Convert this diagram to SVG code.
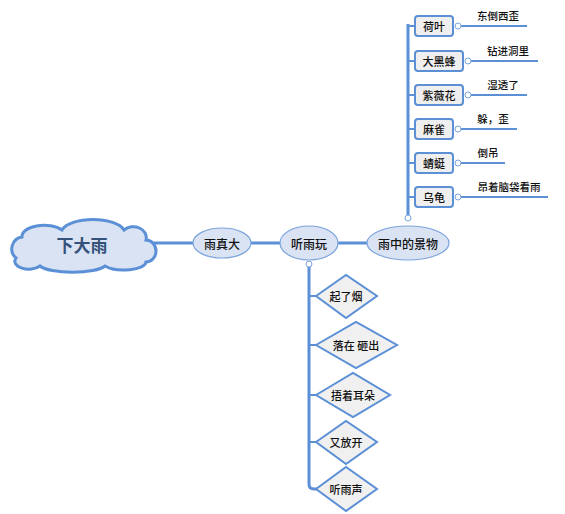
<svg xmlns="http://www.w3.org/2000/svg" width="565" height="514" viewBox="0 0 565 514">
<style>
text{font-family:"Noto Sans CJK SC","Liberation Sans",sans-serif;fill:#111;text-anchor:middle;dominant-baseline:central;font-weight:500}
.ln{stroke:#5b8fd6;fill:none}
.ell{fill:#dae3f3;stroke:#7ba3dc;stroke-width:1.2}
.box{fill:#efefef;stroke:#5b8fd6;stroke-width:2}
.dia{fill:#f0f0f0;stroke:#5b8fd6;stroke-width:2}
.dot{fill:#fff;stroke:#7ba3dc;stroke-width:1}
.n{font-size:12px}
.s{font-size:11px}
.lb{font-size:10.5px}
</style>
<rect width="565" height="514" fill="#fff"/>
<g id="connectors">
<path class="ln" stroke-width="3" d="M150,243 H195 M251,243 H281 M337,243 H368"/>
<path class="ln" stroke-width="3" d="M408,216 V24"/>
<path class="ln" stroke-width="2" d="M408,26 H415 M408,61 H415 M408,95 H415 M408,129 H415 M408,163 H415 M408,197 H415"/>
<path class="ln" stroke-width="3" d="M309,267 V484 Q309,489 314,489 H317"/>
<path class="ln" stroke-width="2" d="M309,296 H317 M309,345 H317 M309,395 H317 M309,442 H317"/>
<path class="ln" stroke-width="2" d="M461,26 H527 M471,61 H538 M471,95 H527 M461,129 H517 M461,163 H505 M461,197 H548"/>
<circle class="dot" cx="408" cy="218" r="3"/>
<circle class="dot" cx="309" cy="264" r="3"/>
<circle class="dot" cx="458" cy="26" r="3"/>
<circle class="dot" cx="468" cy="61" r="3"/>
<circle class="dot" cx="468" cy="95" r="3"/>
<circle class="dot" cx="458" cy="129" r="3"/>
<circle class="dot" cx="458" cy="163" r="3"/>
<circle class="dot" cx="458" cy="197" r="3"/>
</g>
<g id="root">
<path d="M16,258 A12,12 0 0,1 22,237 A22,11 0 0,1 62,230 A32,14 0 0,1 124,230 A13,11 0 0,1 146,240 A10,11 0 0,1 146,262 A22,8 0 0,1 105,266 A34,9 0 0,1 40,266 A14,8 0 0,1 16,258 Z" fill="#dae3f3" stroke="#5b8fd6" stroke-width="3"/>
<text x="82" y="244" style="font-size:17px;font-weight:bold;fill:#34527a">下大雨</text>
</g>
<g id="n-yuzhenda"><ellipse class="ell" cx="222" cy="243" rx="29" ry="15"/><text class="n" x="222" y="243">雨真大</text></g>
<g id="n-tingyuwan"><ellipse class="ell" cx="309" cy="243" rx="29" ry="17"/><text class="n" x="309" y="243">听雨玩</text></g>
<g id="n-jingwu"><ellipse class="ell" cx="408" cy="243" rx="41" ry="17"/><text class="n" x="408" y="243">雨中的景物</text></g>
<g id="n-heye"><rect class="box" x="415" y="16" width="38" height="20" rx="3"/><text class="s" x="434" y="26">荷叶</text><text class="lb" x="498" y="15">东倒西歪</text></g>
<g id="n-daheifeng"><rect class="box" x="415" y="51" width="48" height="20" rx="3"/><text class="s" x="439" y="61">大黑蜂</text><text class="lb" x="508" y="50">钻进洞里</text></g>
<g id="n-ziweihua"><rect class="box" x="415" y="85" width="48" height="20" rx="3"/><text class="s" x="439" y="95">紫薇花</text><text class="lb" x="503" y="84">湿透了</text></g>
<g id="n-maque"><rect class="box" x="415" y="119" width="38" height="20" rx="3"/><text class="s" x="434" y="129">麻雀</text><text class="lb" x="493" y="118">躲，歪</text></g>
<g id="n-qingting"><rect class="box" x="415" y="153" width="38" height="20" rx="3"/><text class="s" x="434" y="163">蜻蜓</text><text class="lb" x="488" y="152">倒吊</text></g>
<g id="n-wugui"><rect class="box" x="415" y="187" width="38" height="20" rx="3"/><text class="s" x="434" y="197">乌龟</text><text class="lb" x="509" y="186">昂着脑袋看雨</text></g>
<g id="d-qiliaoyan"><polygon class="dia" points="316,296 346,275 377,296 346,318"/><text class="s" x="346" y="296">起了烟</text></g>
<g id="d-luozai"><polygon class="dia" points="316,345 356,322 397,345 356,368"/><text class="s" x="356" y="345" xml:space="preserve" style="white-space:pre">落在 砸出</text></g>
<g id="d-wuzhe"><polygon class="dia" points="316,395 353,373 390,395 353,417"/><text class="s" x="353" y="395">捂着耳朵</text></g>
<g id="d-youfangkai"><polygon class="dia" points="316,442 346,421 377,442 346,464"/><text class="s" x="346" y="442">又放开</text></g>
<g id="d-tingyusheng"><polygon class="dia" points="316,489 346,467 377,489 346,511"/><text class="s" x="346" y="489">听雨声</text></g>
</svg>
